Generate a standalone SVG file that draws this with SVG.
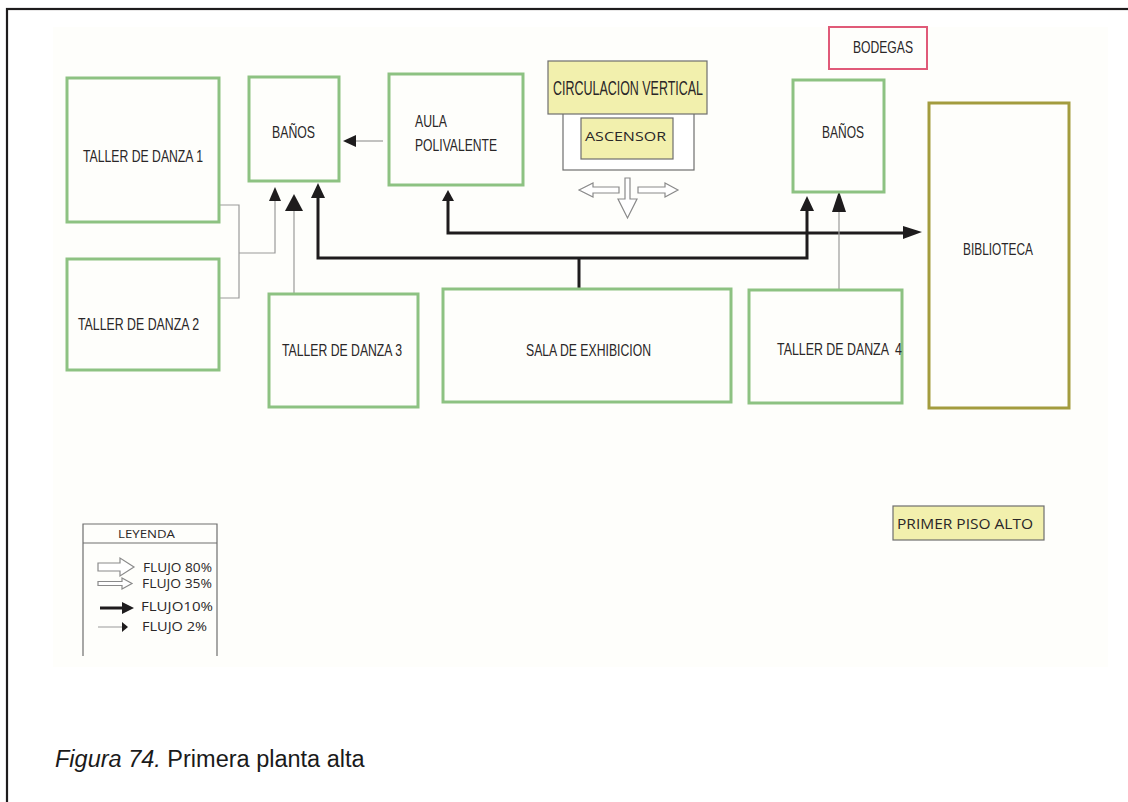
<svg xmlns="http://www.w3.org/2000/svg" width="1128" height="802" viewBox="0 0 1128 802">
  <defs>
    <style>
      .room { fill: none; stroke: #8dc282; stroke-width: 3; }
      .lbl { font-family: "Liberation Sans", Arial, sans-serif; fill: #2a2728; }
      .lbl2 { font-family: "Open Sans", "Liberation Sans", sans-serif; fill: #2a2728; }
      .thick { fill: none; stroke: #1e1c1d; stroke-width: 3; }
      .thin { fill: none; stroke: #9a9a9a; stroke-width: 1.2; }
      .head { fill: #1e1c1d; }
      .hollow { fill: #ffffff; stroke: #8a8a8a; stroke-width: 1.2; }
      .yellow { fill: #f2f0ad; stroke: #6e6e6e; stroke-width: 1.2; }
    </style>
  </defs>

  <rect x="0" y="0" width="1128" height="802" fill="#ffffff"/>
  <!-- frame -->
  <rect x="7" y="9" width="1140" height="820" fill="none" stroke="#1e1c1d" stroke-width="2.2"/>
  <!-- plan sheet -->
  <rect x="53" y="27" width="1055" height="640" fill="#fefefb"/>

  <!-- connectors -->
  <g id="connectors">
    <!-- talleres 1 and 2 to left baños -->
    <polyline class="thin" points="219,205 239,205 239,298 219,298"/>
    <polyline class="thin" points="239,253 275,253 275,200"/>
    <polygon class="head" points="275,187 269,201 281,201"/>
    <!-- taller 3 to left baños -->
    <line class="thin" x1="294" y1="293" x2="294" y2="210"/>
    <polygon class="head" points="294,194 285,211 303,211"/>
    <!-- aula to left baños -->
    <line class="thin" x1="383" y1="141" x2="352" y2="141"/>
    <polygon class="head" points="343,141 356,135 356,147"/>
    <!-- sala de exhibicion to both baños -->
    <polyline class="thick" points="579,288 579,258"/>
    <polyline class="thick" points="318,197 318,258 807,258 807,210"/>
    <polygon class="head" points="318,183 311,198 325,198"/>
    <polygon class="head" points="807,196 800,211 814,211"/>
    <!-- aula to biblioteca -->
    <polyline class="thick" points="448,199 448,233 905,233"/>
    <polygon class="head" points="448,190 442,201 454,201"/>
    <polygon class="head" points="922,232 903,226 903,239"/>
    <!-- taller 4 to right baños -->
    <line class="thin" x1="839" y1="290" x2="839" y2="210"/>
    <polygon class="head" points="839,191 832,212 846,212"/>
    <!-- circulation flows -->
    <polygon class="hollow" points="579,190 593,183 593,187 619,187 619,193 593,193 593,197"/>
    <polygon class="hollow" points="678,190 665,183 665,187 638,187 638,193 665,193 665,197"/>
    <polygon class="hollow" points="625,178 630,178 630,199 637,199 627.5,218 618,199 625,199"/>
  </g>

  <g id="taller1">
    <rect class="room" x="67" y="78" width="152" height="144"/>
    <text class="lbl" x="83" y="162" style="font-size:17px" textLength="120" lengthAdjust="spacingAndGlyphs">TALLER DE DANZA 1</text>
  </g>
  <g id="taller2">
    <rect class="room" x="67" y="259" width="152" height="111"/>
    <text class="lbl" x="78" y="330" style="font-size:17px" textLength="121" lengthAdjust="spacingAndGlyphs">TALLER DE DANZA 2</text>
  </g>
  <g id="banos-izq">
    <rect class="room" x="249" y="77" width="90" height="104"/>
    <text class="lbl" x="272" y="138" style="font-size:17px" textLength="43" lengthAdjust="spacingAndGlyphs">BAÑOS</text>
  </g>
  <g id="aula">
    <rect class="room" x="389" y="74" width="134" height="111"/>
    <text class="lbl" x="415" y="127" style="font-size:17px" textLength="32" lengthAdjust="spacingAndGlyphs">AULA</text>
    <text class="lbl" x="415" y="151" style="font-size:17px" textLength="82" lengthAdjust="spacingAndGlyphs">POLIVALENTE</text>
  </g>
  <g id="circulacion">
    <rect x="563" y="113" width="131" height="57" fill="#ffffff" stroke="#6e6e6e" stroke-width="1.2"/>
    <rect class="yellow" x="548" y="61" width="159" height="53"/>
    <text class="lbl" x="553" y="95" style="font-size:20px" textLength="150" lengthAdjust="spacingAndGlyphs">CIRCULACION VERTICAL</text>
  </g>
  <g id="ascensor">
    <rect class="yellow" x="581" y="118" width="92" height="41"/>
    <text class="lbl2" x="585" y="141" style="font-size:13.5px" textLength="81" lengthAdjust="spacingAndGlyphs">ASCENSOR</text>
  </g>
  <g id="bodegas">
    <rect x="829" y="27" width="98" height="42" fill="none" stroke="#e05a78" stroke-width="2"/>
    <text class="lbl" x="853" y="53" style="font-size:17px" textLength="60" lengthAdjust="spacingAndGlyphs">BODEGAS</text>
  </g>
  <g id="banos-der">
    <rect class="room" x="793" y="80" width="91" height="112"/>
    <text class="lbl" x="822" y="138" style="font-size:17px" textLength="42" lengthAdjust="spacingAndGlyphs">BAÑOS</text>
  </g>
  <g id="biblioteca">
    <rect x="929" y="103" width="140" height="305" fill="none" stroke="#a39c3e" stroke-width="3"/>
    <text class="lbl" x="963" y="255" style="font-size:17px" textLength="70" lengthAdjust="spacingAndGlyphs">BIBLIOTECA</text>
  </g>
  <g id="taller3">
    <rect class="room" x="269" y="294" width="149" height="113"/>
    <text class="lbl" x="282" y="356" style="font-size:17px" textLength="120" lengthAdjust="spacingAndGlyphs">TALLER DE DANZA 3</text>
  </g>
  <g id="sala">
    <rect class="room" x="443" y="289" width="288" height="113"/>
    <text class="lbl" x="526" y="356" style="font-size:17px" textLength="125" lengthAdjust="spacingAndGlyphs">SALA DE EXHIBICION</text>
  </g>
  <g id="taller4">
    <rect class="room" x="749" y="290" width="153" height="113"/>
    <text class="lbl" x="777" y="355" style="font-size:17px" textLength="125" lengthAdjust="spacingAndGlyphs" xml:space="preserve">TALLER DE DANZA  4</text>
  </g>

  <g id="piso">
    <rect class="yellow" x="893" y="506" width="151" height="34"/>
    <text class="lbl2" x="897" y="529" style="font-size:14px" textLength="136" lengthAdjust="spacingAndGlyphs">PRIMER PISO ALTO</text>
  </g>

  <!-- legend -->
  <g id="leyenda">
    <polyline fill="none" stroke="#6e6e6e" stroke-width="1.2" points="83,656 83,524 217,524 217,656"/>
    <line x1="83" y1="543" x2="217" y2="543" stroke="#6e6e6e" stroke-width="1.2"/>
    <text class="lbl2" x="118" y="538" style="font-size:11.5px" textLength="57" lengthAdjust="spacingAndGlyphs">LEYENDA</text>
    <polygon class="hollow" points="98,563 120,563 120,558 134,567 120,576 120,571 98,571"/>
    <text class="lbl2" x="143" y="572" style="font-size:12.5px" textLength="69" lengthAdjust="spacingAndGlyphs">FLUJO 80%</text>
    <polygon class="hollow" points="98,581.5 122,581.5 122,578 132,583.5 122,589 122,585.5 98,585.5"/>
    <text class="lbl2" x="142" y="588" style="font-size:12.5px" textLength="70" lengthAdjust="spacingAndGlyphs">FLUJO 35%</text>
    <line x1="100" y1="608" x2="124" y2="608" stroke="#1e1c1d" stroke-width="3"/>
    <polygon class="head" points="134,608 122,602 122,614"/>
    <text class="lbl2" x="141" y="611" style="font-size:12.5px" textLength="72" lengthAdjust="spacingAndGlyphs">FLUJO10%</text>
    <line x1="98" y1="627" x2="124" y2="627" stroke="#9a9a9a" stroke-width="1"/>
    <polygon class="head" points="128,627 122,622 122,632"/>
    <text class="lbl2" x="142" y="631" style="font-size:12.5px" textLength="65" lengthAdjust="spacingAndGlyphs">FLUJO 2%</text>
  </g>

  <!-- caption -->
  <text x="55" y="767" font-family="Liberation Sans, Arial, sans-serif" font-size="23.5" fill="#1a1a1a"><tspan font-style="italic">Figura 74.</tspan> Primera planta alta</text>
</svg>
